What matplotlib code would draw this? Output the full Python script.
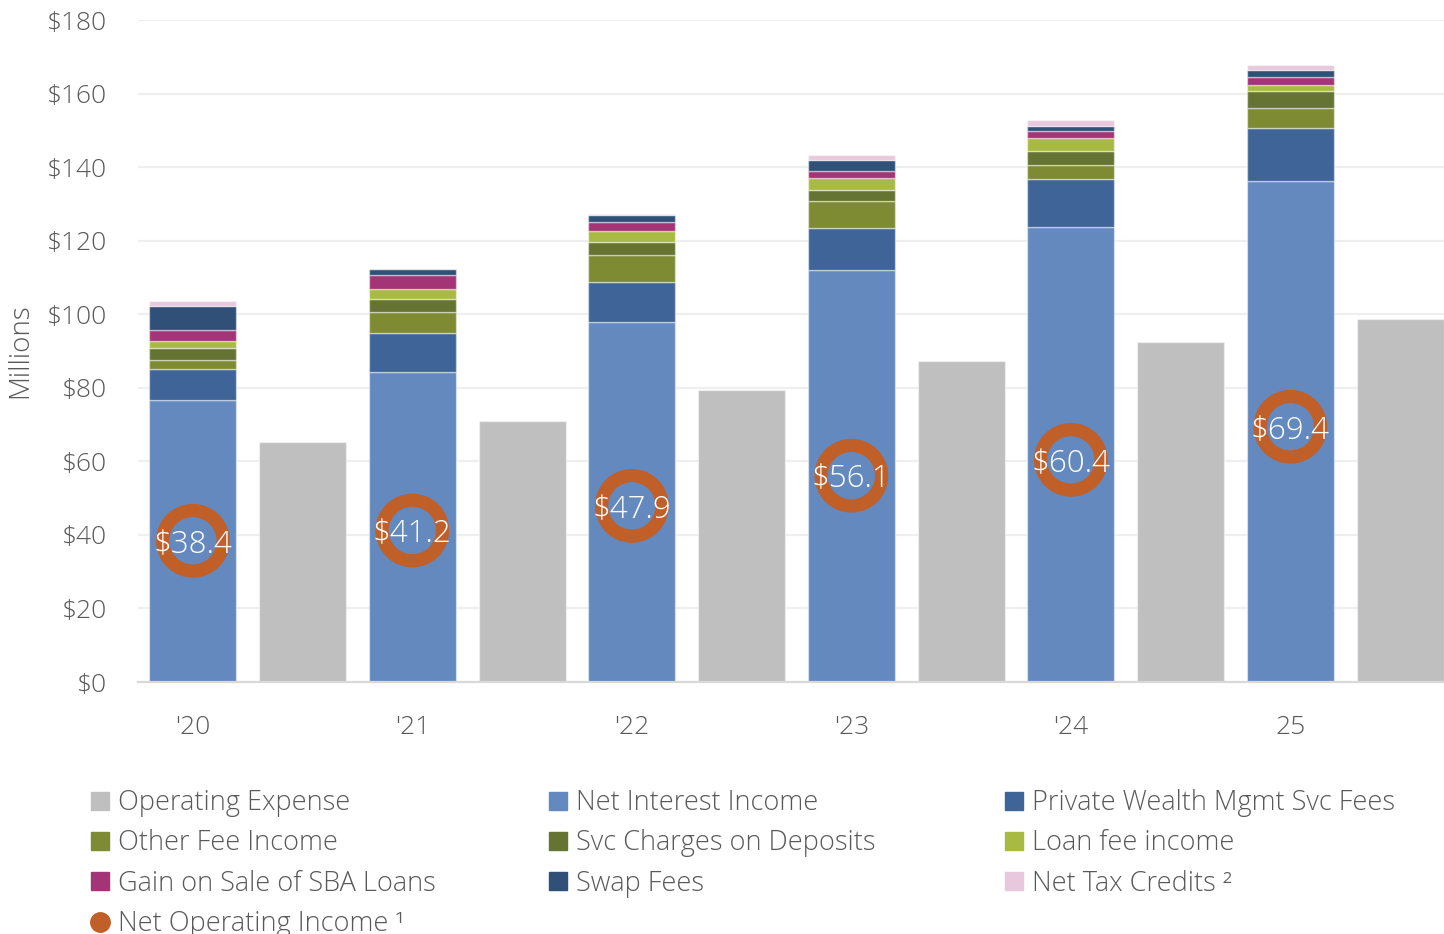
import matplotlib
matplotlib.use("Agg")
import matplotlib.pyplot as plt
from matplotlib.lines import Line2D
import numpy as np

# Revenue components and expenses, $ millions
years = ["'20", "'21", "'22", "'23", "'24", "25"]
net_interest_income = [76.7, 84.3, 97.8, 112.0, 123.6, 136.2]
private_wealth_fees = [8.5, 10.6, 10.9, 11.4, 13.2, 14.5]
other_fee_income = [2.3, 5.6, 7.3, 7.3, 3.9, 5.5]
svc_charges = [3.4, 3.6, 3.7, 3.1, 3.8, 4.4]
loan_fee_income = [1.8, 2.8, 3.0, 3.2, 3.3, 1.8]
gain_sba_loans = [2.9, 3.9, 2.5, 2.0, 2.0, 2.0]
swap_fees = [6.7, 1.4, 1.9, 2.9, 1.5, 1.9]
net_tax_credits = [1.2, 0.1, 0.2, 1.4, 1.5, 1.6]
operating_expense = [65.3, 71.0, 79.4, 87.3, 92.4, 98.7]
net_operating_income = [38.4, 41.2, 47.9, 56.1, 60.4, 69.4]

TEXT = "#595959"

stack = [
    ("Net Interest Income", net_interest_income, "#6389bf"),
    ("Private Wealth Mgmt Svc Fees", private_wealth_fees, "#3f6598"),
    ("Other Fee Income", other_fee_income, "#7e8b32"),
    ("Svc Charges on Deposits", svc_charges, "#667433"),
    ("Loan fee income", loan_fee_income, "#a9ba43"),
    ("Gain on Sale of SBA Loans", gain_sba_loans, "#a33476"),
    ("Swap Fees", swap_fees, "#305078"),
    ("Net Tax Credits \u00b2", net_tax_credits, "#e8c8dc"),
]
opex_color = "#bfbfbf"
noi_color = "#c05f27"

plt.rcParams["font.family"] = ["Open Sans", "DejaVu Sans"]
plt.rcParams["font.weight"] = "light"
plt.rcParams["axes.labelweight"] = "light"

fig = plt.figure(figsize=(14.44, 9.34), dpi=100)
ax = fig.add_axes([138 / 1444, 252 / 934, 1 - 138 / 1444, 662 / 934])

x = np.arange(len(years))
width = 0.396
edge = (1, 1, 1, 0.45)

bottom = np.zeros(len(years))
for name, vals, color in stack:
    ax.bar(x, vals, width, bottom=bottom, color=color, edgecolor=edge,
           linewidth=1, zorder=3)
    bottom += np.array(vals)

ax.bar(x + 0.5, operating_expense, width, color=opex_color, edgecolor=edge,
       linewidth=1, zorder=3)

ax.scatter(x, net_operating_income, s=1900, facecolors="none",
           edgecolors=noi_color, linewidths=9.5, zorder=4)
for xi, v in zip(x, net_operating_income):
    ax.text(xi, v, "$%.1f" % v, ha="center", va="center_baseline",
            color="white", fontsize=22.5, zorder=5)

ax.set_xlim(-0.25, 5.7)
ax.set_ylim(0, 180)
ax.set_yticks(range(0, 181, 20))
ax.set_yticklabels(["$%d" % t for t in range(0, 181, 20)])
ax.set_xticks(x)
ax.set_xticklabels(years)
ax.tick_params(axis="both", length=0, labelsize=19, labelcolor=TEXT)
ax.tick_params(axis="y", pad=22)
ax.tick_params(axis="x", pad=24)
ax.grid(axis="y", color="#efefef", linewidth=1.6, zorder=0)
for s in ["top", "right", "left"]:
    ax.spines[s].set_visible(False)
ax.spines["bottom"].set_color("#d9d9d9")
ax.spines["bottom"].set_linewidth(1.6)
ax.spines["bottom"].set_zorder(4)
ax.set_ylabel("Millions", fontsize=20, color=TEXT, labelpad=9)

# Legend laid out in three fixed columns
sq = dict(marker="s", linestyle="none", markersize=12.5)
h = {name: Line2D([], [], color=c, **sq) for name, _, c in stack}
h["Operating Expense"] = Line2D([], [], color=opex_color, **sq)
h["Net Operating Income \u00b9"] = Line2D([], [], color=noi_color, marker="o",
                                          linestyle="none", markersize=14)
columns = [
    (91, ["Operating Expense", "Other Fee Income", "Gain on Sale of SBA Loans",
          "Net Operating Income \u00b9"]),
    (549, ["Net Interest Income", "Svc Charges on Deposits", "Swap Fees"]),
    (1005, ["Private Wealth Mgmt Svc Fees", "Loan fee income",
            "Net Tax Credits \u00b2"]),
]
for left, names in columns:
    fig.legend([h[n] for n in names], names, loc="upper left",
               bbox_to_anchor=(left / 1444, 1 - 789 / 934),
               frameon=False, fontsize=19.5, labelcolor=TEXT,
               handlelength=0.65, handletextpad=0.35, labelspacing=0.46,
               borderaxespad=0, borderpad=0)

fig.savefig("out.png", dpi=100)
